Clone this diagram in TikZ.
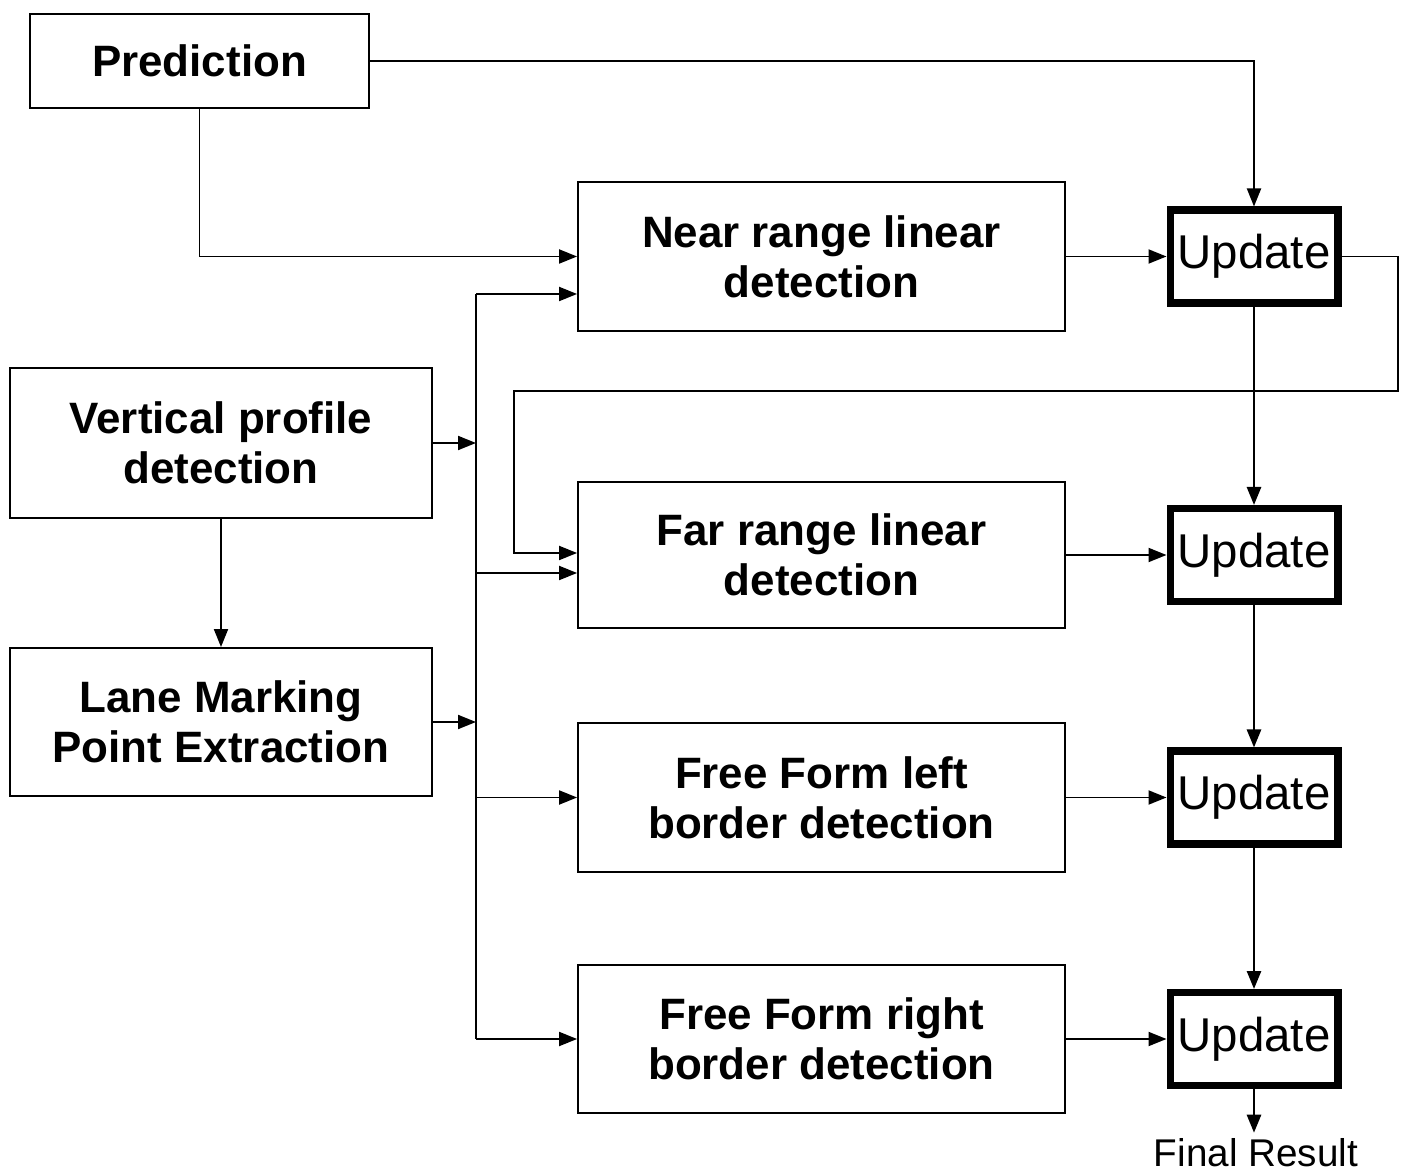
\documentclass[tikz,border=0pt]{standalone}
\usepackage{fontspec}
\setmainfont{Liberation Sans}
\usetikzlibrary{arrows.meta,calc}
\begin{document}
\begin{tikzpicture}[x=0.02cm,y=-0.02cm,
  stagebox/.style={draw,line width=1.1pt,align=center,inner sep=0pt,
    font=\fontsize{25}{28.5}\selectfont\bfseries},
  updbox/.style={draw,line width=4pt,inner sep=0pt,minimum width=3.36cm,
    minimum height=1.86cm,font=\fontsize{27}{30}\selectfont},
  link/.style={line width=1.1pt,-{Triangle[length=0.36cm,width=0.28cm]}},
  buswire/.style={line width=1.5pt},
  chain/.style={link,line width=1.5pt}]
\useasboundingbox (0,0) rectangle (1401,1172);

% processing stages
\node[stagebox,minimum width=6.78cm,minimum height=1.88cm] (pred) at (199.5,61) {Prediction};
\node[stagebox,minimum width=8.44cm,minimum height=3.0cm] (vp) at (221,443) {Vertical profile\\detection};
\node[stagebox,minimum width=8.44cm,minimum height=2.96cm] (lm) at (221,722) {Lane Marking\\Point Extraction};
\node[stagebox,minimum width=9.74cm,minimum height=2.98cm] (near) at (821.5,256.5) {Near range linear\\detection};
\node[stagebox,minimum width=9.74cm,minimum height=2.92cm] (far) at (821.5,555) {Far range linear\\detection};
\node[stagebox,minimum width=9.74cm,minimum height=2.98cm] (fl) at (821.5,797.5) {Free Form left\\border detection};
\node[stagebox,minimum width=9.74cm,minimum height=2.96cm] (fr) at (821.5,1039) {Free Form right\\border detection};

% update stages
\node[updbox] (u1) at (1254,256.5) {Update};
\node[updbox] (u2) at (1254,555) {Update};
\node[updbox] (u3) at (1254,797.5) {Update};
\node[updbox] (u4) at (1254,1039) {Update};
\node[font=\fontsize{22}{24}\selectfont,inner sep=0pt,anchor=north] (fin) at (1256,1138) {Final Result};

% distribution bus
\coordinate (bt) at (476,294);
\coordinate (bf) at (476,573);
\coordinate (bl) at (476,797.5);
\coordinate (br) at (476,1039);
\draw[buswire] (bt) -- (br);

% prediction feeds
\draw[link] (pred.east) -| (u1.north);
\draw[link] (pred.south) |- (near.west);

% detection inputs
\draw[link] (vp.east) -- (vp.east -| bt);
\draw[link] (lm.east) -- (lm.east -| bt);
\draw[link] (vp.south) -- (lm.north);
\draw[link] (bt) -- (near.west |- bt);
\draw[link] (bf) -- (far.west |- bf);
\draw[link] (bl) -- (fl.west);
\draw[link] (br) -- (fr.west);

% feedback from the first update
\coordinate (lr) at (1398,391);
\coordinate (ll) at (514,391);
\draw[link] (u1.east) -| (lr) -- (ll) |- ($(far.west)+(0,-2)$);

% detections into updates
\draw[link] (near.east) -- (u1.west);
\draw[link] (far.east) -- (u2.west);
\draw[link] (fl.east) -- (u3.west);
\draw[link] (fr.east) -- (u4.west);

% update chain
\draw[chain] (u1.south) -- (u2.north);
\draw[chain] (u2.south) -- (u3.north);
\draw[chain] (u3.south) -- (u4.north);
\draw[chain,shorten >=3pt] (u4.south) -- (u4.south |- fin.north);
\end{tikzpicture}
\end{document}
